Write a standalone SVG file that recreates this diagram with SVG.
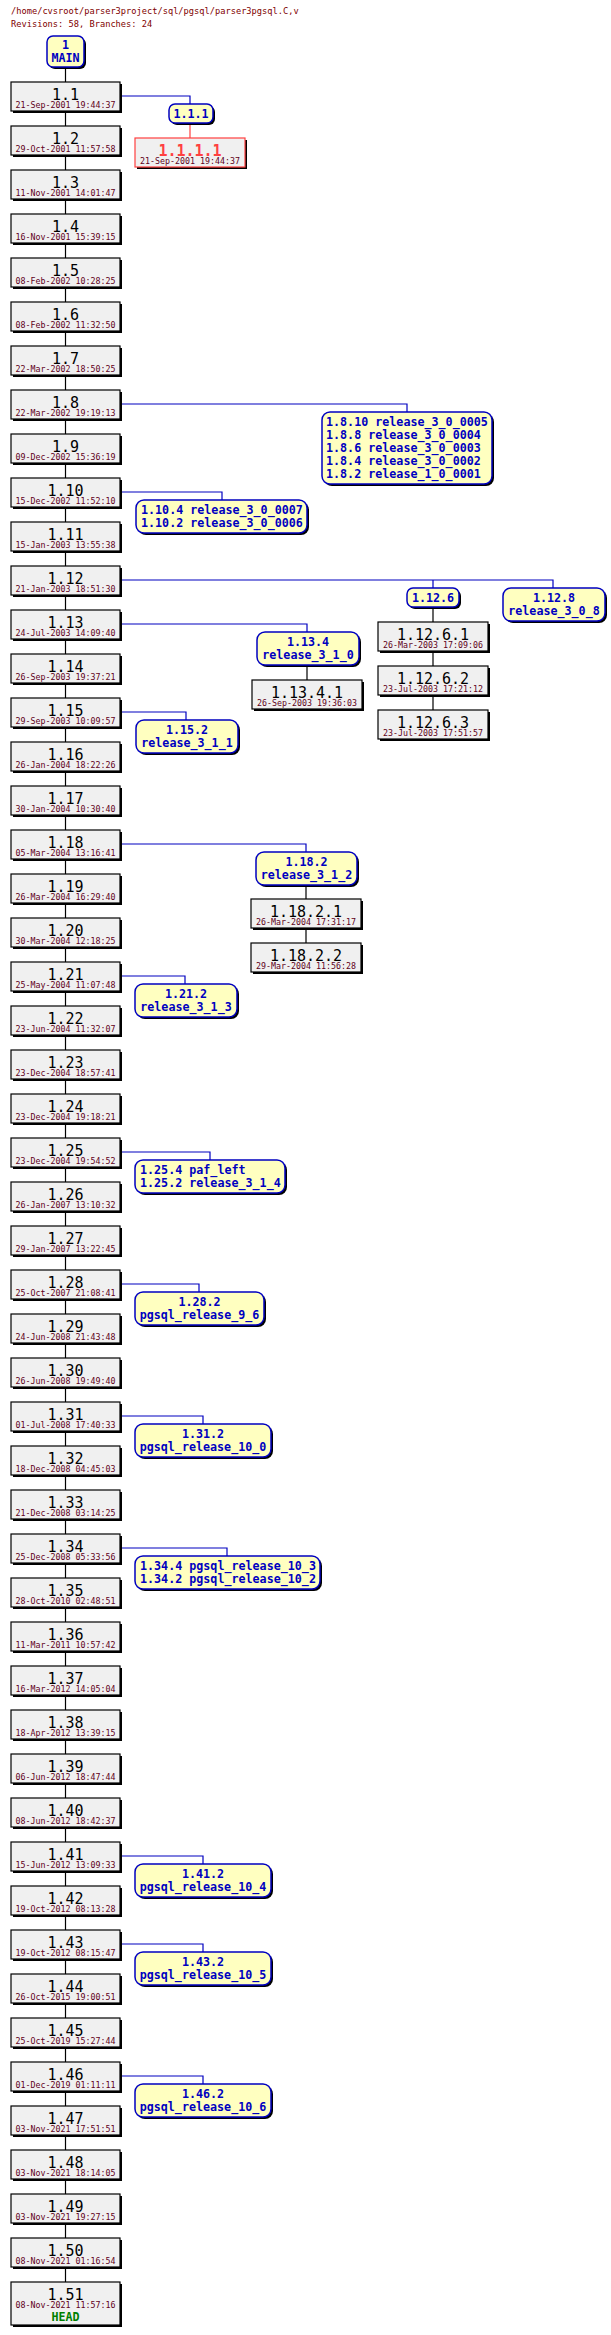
<svg xmlns="http://www.w3.org/2000/svg" width="611" height="2335" viewBox="0 0 611 2335">
<style>
.hd{font-family:"DejaVu Sans Mono",monospace;font-size:8.7px;fill:#800000}
.sh{fill:#000}
.rv{fill:#f0f0f0;stroke:#000;stroke-width:1.2}
.rvr{fill:#f0f0f0;stroke:#ff4040;stroke-width:1.2}
.tg{fill:#ffffc0;stroke:#0000c0;stroke-width:1.5}
.n{font-family:"DejaVu Sans Mono",monospace;font-size:15px;fill:#000;text-anchor:middle}
.nr{font-family:"DejaVu Sans Mono",monospace;font-size:15px;fill:#ff4040;text-anchor:middle;font-weight:bold}
.d{font-family:"DejaVu Sans Mono",monospace;font-size:8.3px;fill:#600020;text-anchor:middle}
.t{font-family:"DejaVu Sans Mono",monospace;font-size:11.7px;font-weight:bold;fill:#0000c0}
.c{text-anchor:middle}
.hdt{font-family:"DejaVu Sans Mono",monospace;font-size:11.7px;font-weight:bold;fill:#008000;text-anchor:middle}
.k{stroke:#000;stroke-width:1.2;fill:none}
.b{stroke:#0000c0;stroke-width:1.2;fill:none}
.r{stroke:#ff4040;stroke-width:1.2;fill:none}
</style>
<text class="hd" x="11" y="14">/home/cvsroot/parser3project/sql/pgsql/parser3pgsql.C,v</text>
<text class="hd" x="11" y="27">Revisions: 58, Branches: 24</text>
<g id="connectors">
<path class="k" d="M65.5 67V2282"/>
<path class="b" d="M120 96H190V104M120 404H407V412M120 492H222V500M120 580H553V588M433 580V588M120 624H307V632M120 712H186V720M120 844H306V852M120 976H185V984M120 1152H210V1160M120 1284H199V1292M120 1416H203V1424M120 1548H227V1556M120 1856H203V1864M120 1944H203V1952M120 2076H203V2084"/>
<path class="r" d="M190 123V138"/>
<path class="k" d="M433 607V622M433 651V666M433 695V710M307 665V680M306 885V899M306 928V943"/>
</g>
<g id="MAIN"><rect class="sh" x="49" y="38" width="37" height="31" rx="6"/><rect class="tg" x="47" y="36" width="37" height="31" rx="6"/><text class="t c" x="65.5" y="49">1</text><text class="t c" x="65.5" y="62">MAIN</text></g>
<g id="trunk">
<g id="r1.1"><rect class="sh" x="13" y="84" width="109" height="29"/><rect class="rv" x="11" y="82" width="109" height="29"/><text class="n" x="65.5" y="100">1.1</text><text class="d" x="65.5" y="108">21-Sep-2001 19:44:37</text></g>
<g id="r1.2"><rect class="sh" x="13" y="128" width="109" height="29"/><rect class="rv" x="11" y="126" width="109" height="29"/><text class="n" x="65.5" y="144">1.2</text><text class="d" x="65.5" y="152">29-Oct-2001 11:57:58</text></g>
<g id="r1.3"><rect class="sh" x="13" y="172" width="109" height="29"/><rect class="rv" x="11" y="170" width="109" height="29"/><text class="n" x="65.5" y="188">1.3</text><text class="d" x="65.5" y="196">11-Nov-2001 14:01:47</text></g>
<g id="r1.4"><rect class="sh" x="13" y="216" width="109" height="29"/><rect class="rv" x="11" y="214" width="109" height="29"/><text class="n" x="65.5" y="232">1.4</text><text class="d" x="65.5" y="240">16-Nov-2001 15:39:15</text></g>
<g id="r1.5"><rect class="sh" x="13" y="260" width="109" height="29"/><rect class="rv" x="11" y="258" width="109" height="29"/><text class="n" x="65.5" y="276">1.5</text><text class="d" x="65.5" y="284">08-Feb-2002 10:28:25</text></g>
<g id="r1.6"><rect class="sh" x="13" y="304" width="109" height="29"/><rect class="rv" x="11" y="302" width="109" height="29"/><text class="n" x="65.5" y="320">1.6</text><text class="d" x="65.5" y="328">08-Feb-2002 11:32:50</text></g>
<g id="r1.7"><rect class="sh" x="13" y="348" width="109" height="29"/><rect class="rv" x="11" y="346" width="109" height="29"/><text class="n" x="65.5" y="364">1.7</text><text class="d" x="65.5" y="372">22-Mar-2002 18:50:25</text></g>
<g id="r1.8"><rect class="sh" x="13" y="392" width="109" height="29"/><rect class="rv" x="11" y="390" width="109" height="29"/><text class="n" x="65.5" y="408">1.8</text><text class="d" x="65.5" y="416">22-Mar-2002 19:19:13</text></g>
<g id="r1.9"><rect class="sh" x="13" y="436" width="109" height="29"/><rect class="rv" x="11" y="434" width="109" height="29"/><text class="n" x="65.5" y="452">1.9</text><text class="d" x="65.5" y="460">09-Dec-2002 15:36:19</text></g>
<g id="r1.10"><rect class="sh" x="13" y="480" width="109" height="29"/><rect class="rv" x="11" y="478" width="109" height="29"/><text class="n" x="65.5" y="496">1.10</text><text class="d" x="65.5" y="504">15-Dec-2002 11:52:10</text></g>
<g id="r1.11"><rect class="sh" x="13" y="524" width="109" height="29"/><rect class="rv" x="11" y="522" width="109" height="29"/><text class="n" x="65.5" y="540">1.11</text><text class="d" x="65.5" y="548">15-Jan-2003 13:55:38</text></g>
<g id="r1.12"><rect class="sh" x="13" y="568" width="109" height="29"/><rect class="rv" x="11" y="566" width="109" height="29"/><text class="n" x="65.5" y="584">1.12</text><text class="d" x="65.5" y="592">21-Jan-2003 18:51:30</text></g>
<g id="r1.13"><rect class="sh" x="13" y="612" width="109" height="29"/><rect class="rv" x="11" y="610" width="109" height="29"/><text class="n" x="65.5" y="628">1.13</text><text class="d" x="65.5" y="636">24-Jul-2003 14:09:40</text></g>
<g id="r1.14"><rect class="sh" x="13" y="656" width="109" height="29"/><rect class="rv" x="11" y="654" width="109" height="29"/><text class="n" x="65.5" y="672">1.14</text><text class="d" x="65.5" y="680">26-Sep-2003 19:37:21</text></g>
<g id="r1.15"><rect class="sh" x="13" y="700" width="109" height="29"/><rect class="rv" x="11" y="698" width="109" height="29"/><text class="n" x="65.5" y="716">1.15</text><text class="d" x="65.5" y="724">29-Sep-2003 10:09:57</text></g>
<g id="r1.16"><rect class="sh" x="13" y="744" width="109" height="29"/><rect class="rv" x="11" y="742" width="109" height="29"/><text class="n" x="65.5" y="760">1.16</text><text class="d" x="65.5" y="768">26-Jan-2004 18:22:26</text></g>
<g id="r1.17"><rect class="sh" x="13" y="788" width="109" height="29"/><rect class="rv" x="11" y="786" width="109" height="29"/><text class="n" x="65.5" y="804">1.17</text><text class="d" x="65.5" y="812">30-Jan-2004 10:30:40</text></g>
<g id="r1.18"><rect class="sh" x="13" y="832" width="109" height="29"/><rect class="rv" x="11" y="830" width="109" height="29"/><text class="n" x="65.5" y="848">1.18</text><text class="d" x="65.5" y="856">05-Mar-2004 13:16:41</text></g>
<g id="r1.19"><rect class="sh" x="13" y="876" width="109" height="29"/><rect class="rv" x="11" y="874" width="109" height="29"/><text class="n" x="65.5" y="892">1.19</text><text class="d" x="65.5" y="900">26-Mar-2004 16:29:40</text></g>
<g id="r1.20"><rect class="sh" x="13" y="920" width="109" height="29"/><rect class="rv" x="11" y="918" width="109" height="29"/><text class="n" x="65.5" y="936">1.20</text><text class="d" x="65.5" y="944">30-Mar-2004 12:18:25</text></g>
<g id="r1.21"><rect class="sh" x="13" y="964" width="109" height="29"/><rect class="rv" x="11" y="962" width="109" height="29"/><text class="n" x="65.5" y="980">1.21</text><text class="d" x="65.5" y="988">25-May-2004 11:07:48</text></g>
<g id="r1.22"><rect class="sh" x="13" y="1008" width="109" height="29"/><rect class="rv" x="11" y="1006" width="109" height="29"/><text class="n" x="65.5" y="1024">1.22</text><text class="d" x="65.5" y="1032">23-Jun-2004 11:32:07</text></g>
<g id="r1.23"><rect class="sh" x="13" y="1052" width="109" height="29"/><rect class="rv" x="11" y="1050" width="109" height="29"/><text class="n" x="65.5" y="1068">1.23</text><text class="d" x="65.5" y="1076">23-Dec-2004 18:57:41</text></g>
<g id="r1.24"><rect class="sh" x="13" y="1096" width="109" height="29"/><rect class="rv" x="11" y="1094" width="109" height="29"/><text class="n" x="65.5" y="1112">1.24</text><text class="d" x="65.5" y="1120">23-Dec-2004 19:18:21</text></g>
<g id="r1.25"><rect class="sh" x="13" y="1140" width="109" height="29"/><rect class="rv" x="11" y="1138" width="109" height="29"/><text class="n" x="65.5" y="1156">1.25</text><text class="d" x="65.5" y="1164">23-Dec-2004 19:54:52</text></g>
<g id="r1.26"><rect class="sh" x="13" y="1184" width="109" height="29"/><rect class="rv" x="11" y="1182" width="109" height="29"/><text class="n" x="65.5" y="1200">1.26</text><text class="d" x="65.5" y="1208">26-Jan-2007 13:10:32</text></g>
<g id="r1.27"><rect class="sh" x="13" y="1228" width="109" height="29"/><rect class="rv" x="11" y="1226" width="109" height="29"/><text class="n" x="65.5" y="1244">1.27</text><text class="d" x="65.5" y="1252">29-Jan-2007 13:22:45</text></g>
<g id="r1.28"><rect class="sh" x="13" y="1272" width="109" height="29"/><rect class="rv" x="11" y="1270" width="109" height="29"/><text class="n" x="65.5" y="1288">1.28</text><text class="d" x="65.5" y="1296">25-Oct-2007 21:08:41</text></g>
<g id="r1.29"><rect class="sh" x="13" y="1316" width="109" height="29"/><rect class="rv" x="11" y="1314" width="109" height="29"/><text class="n" x="65.5" y="1332">1.29</text><text class="d" x="65.5" y="1340">24-Jun-2008 21:43:48</text></g>
<g id="r1.30"><rect class="sh" x="13" y="1360" width="109" height="29"/><rect class="rv" x="11" y="1358" width="109" height="29"/><text class="n" x="65.5" y="1376">1.30</text><text class="d" x="65.5" y="1384">26-Jun-2008 19:49:40</text></g>
<g id="r1.31"><rect class="sh" x="13" y="1404" width="109" height="29"/><rect class="rv" x="11" y="1402" width="109" height="29"/><text class="n" x="65.5" y="1420">1.31</text><text class="d" x="65.5" y="1428">01-Jul-2008 17:40:33</text></g>
<g id="r1.32"><rect class="sh" x="13" y="1448" width="109" height="29"/><rect class="rv" x="11" y="1446" width="109" height="29"/><text class="n" x="65.5" y="1464">1.32</text><text class="d" x="65.5" y="1472">18-Dec-2008 04:45:03</text></g>
<g id="r1.33"><rect class="sh" x="13" y="1492" width="109" height="29"/><rect class="rv" x="11" y="1490" width="109" height="29"/><text class="n" x="65.5" y="1508">1.33</text><text class="d" x="65.5" y="1516">21-Dec-2008 03:14:25</text></g>
<g id="r1.34"><rect class="sh" x="13" y="1536" width="109" height="29"/><rect class="rv" x="11" y="1534" width="109" height="29"/><text class="n" x="65.5" y="1552">1.34</text><text class="d" x="65.5" y="1560">25-Dec-2008 05:33:56</text></g>
<g id="r1.35"><rect class="sh" x="13" y="1580" width="109" height="29"/><rect class="rv" x="11" y="1578" width="109" height="29"/><text class="n" x="65.5" y="1596">1.35</text><text class="d" x="65.5" y="1604">28-Oct-2010 02:48:51</text></g>
<g id="r1.36"><rect class="sh" x="13" y="1624" width="109" height="29"/><rect class="rv" x="11" y="1622" width="109" height="29"/><text class="n" x="65.5" y="1640">1.36</text><text class="d" x="65.5" y="1648">11-Mar-2011 10:57:42</text></g>
<g id="r1.37"><rect class="sh" x="13" y="1668" width="109" height="29"/><rect class="rv" x="11" y="1666" width="109" height="29"/><text class="n" x="65.5" y="1684">1.37</text><text class="d" x="65.5" y="1692">16-Mar-2012 14:05:04</text></g>
<g id="r1.38"><rect class="sh" x="13" y="1712" width="109" height="29"/><rect class="rv" x="11" y="1710" width="109" height="29"/><text class="n" x="65.5" y="1728">1.38</text><text class="d" x="65.5" y="1736">18-Apr-2012 13:39:15</text></g>
<g id="r1.39"><rect class="sh" x="13" y="1756" width="109" height="29"/><rect class="rv" x="11" y="1754" width="109" height="29"/><text class="n" x="65.5" y="1772">1.39</text><text class="d" x="65.5" y="1780">06-Jun-2012 18:47:44</text></g>
<g id="r1.40"><rect class="sh" x="13" y="1800" width="109" height="29"/><rect class="rv" x="11" y="1798" width="109" height="29"/><text class="n" x="65.5" y="1816">1.40</text><text class="d" x="65.5" y="1824">08-Jun-2012 18:42:37</text></g>
<g id="r1.41"><rect class="sh" x="13" y="1844" width="109" height="29"/><rect class="rv" x="11" y="1842" width="109" height="29"/><text class="n" x="65.5" y="1860">1.41</text><text class="d" x="65.5" y="1868">15-Jun-2012 13:09:33</text></g>
<g id="r1.42"><rect class="sh" x="13" y="1888" width="109" height="29"/><rect class="rv" x="11" y="1886" width="109" height="29"/><text class="n" x="65.5" y="1904">1.42</text><text class="d" x="65.5" y="1912">19-Oct-2012 08:13:28</text></g>
<g id="r1.43"><rect class="sh" x="13" y="1932" width="109" height="29"/><rect class="rv" x="11" y="1930" width="109" height="29"/><text class="n" x="65.5" y="1948">1.43</text><text class="d" x="65.5" y="1956">19-Oct-2012 08:15:47</text></g>
<g id="r1.44"><rect class="sh" x="13" y="1976" width="109" height="29"/><rect class="rv" x="11" y="1974" width="109" height="29"/><text class="n" x="65.5" y="1992">1.44</text><text class="d" x="65.5" y="2000">26-Oct-2015 19:00:51</text></g>
<g id="r1.45"><rect class="sh" x="13" y="2020" width="109" height="29"/><rect class="rv" x="11" y="2018" width="109" height="29"/><text class="n" x="65.5" y="2036">1.45</text><text class="d" x="65.5" y="2044">25-Oct-2019 15:27:44</text></g>
<g id="r1.46"><rect class="sh" x="13" y="2064" width="109" height="29"/><rect class="rv" x="11" y="2062" width="109" height="29"/><text class="n" x="65.5" y="2080">1.46</text><text class="d" x="65.5" y="2088">01-Dec-2019 01:11:11</text></g>
<g id="r1.47"><rect class="sh" x="13" y="2108" width="109" height="29"/><rect class="rv" x="11" y="2106" width="109" height="29"/><text class="n" x="65.5" y="2124">1.47</text><text class="d" x="65.5" y="2132">03-Nov-2021 17:51:51</text></g>
<g id="r1.48"><rect class="sh" x="13" y="2152" width="109" height="29"/><rect class="rv" x="11" y="2150" width="109" height="29"/><text class="n" x="65.5" y="2168">1.48</text><text class="d" x="65.5" y="2176">03-Nov-2021 18:14:05</text></g>
<g id="r1.49"><rect class="sh" x="13" y="2196" width="109" height="29"/><rect class="rv" x="11" y="2194" width="109" height="29"/><text class="n" x="65.5" y="2212">1.49</text><text class="d" x="65.5" y="2220">03-Nov-2021 19:27:15</text></g>
<g id="r1.50"><rect class="sh" x="13" y="2240" width="109" height="29"/><rect class="rv" x="11" y="2238" width="109" height="29"/><text class="n" x="65.5" y="2256">1.50</text><text class="d" x="65.5" y="2264">08-Nov-2021 01:16:54</text></g>
<g id="r1.51"><rect class="sh" x="13" y="2284" width="109" height="43"/><rect class="rv" x="11" y="2282" width="109" height="43"/><text class="n" x="65.5" y="2300">1.51</text><text class="d" x="65.5" y="2308">08-Nov-2021 11:57:16</text><text class="hdt" x="65.5" y="2321">HEAD</text></g>
</g>
<g id="branches" xml:space="preserve">
<g id="b1.1.1"><rect class="sh" x="171" y="106" width="44" height="19" rx="6"/><rect class="tg" x="169" y="104" width="44" height="19" rx="6"/><text class="t c" x="191" y="118">1.1.1</text></g>
<g id="r1.1.1.1"><rect class="sh" x="137" y="140" width="110" height="29"/><rect class="rvr" x="135" y="138" width="110" height="29"/><text class="nr" x="190" y="156">1.1.1.1</text><text class="d" x="190" y="164">21-Sep-2001 19:44:37</text></g>
<g id="t1.8"><rect class="sh" x="324" y="414" width="170" height="72" rx="8"/><rect class="tg" x="322" y="412" width="170" height="72" rx="8"/><text class="t" x="326" y="426">1.8.10 release_3_0_0005</text><text class="t" x="326" y="439"> 1.8.8 release_3_0_0004</text><text class="t" x="326" y="452"> 1.8.6 release_3_0_0003</text><text class="t" x="326" y="465"> 1.8.4 release_3_0_0002</text><text class="t" x="326" y="478"> 1.8.2 release_1_0_0001</text></g>
<g id="t1.10"><rect class="sh" x="138" y="502" width="171" height="33" rx="8"/><rect class="tg" x="136" y="500" width="171" height="33" rx="8"/><text class="t" x="141" y="514">1.10.4 release_3_0_0007</text><text class="t" x="141" y="527">1.10.2 release_3_0_0006</text></g>
<g id="b1.12.6"><rect class="sh" x="409" y="590" width="52" height="19" rx="6"/><rect class="tg" x="407" y="588" width="52" height="19" rx="6"/><text class="t c" x="433" y="602">1.12.6</text></g>
<g id="b1.12.8"><rect class="sh" x="505" y="590" width="102" height="33" rx="8"/><rect class="tg" x="503" y="588" width="102" height="33" rx="8"/><text class="t c" x="554" y="602">1.12.8</text><text class="t c" x="554" y="615">release_3_0_8</text></g>
<g id="r1.12.6.1"><rect class="sh" x="380" y="624" width="110" height="29"/><rect class="rv" x="378" y="622" width="110" height="29"/><text class="n" x="433" y="640">1.12.6.1</text><text class="d" x="433" y="648">26-Mar-2003 17:09:06</text></g>
<g id="r1.12.6.2"><rect class="sh" x="380" y="668" width="110" height="29"/><rect class="rv" x="378" y="666" width="110" height="29"/><text class="n" x="433" y="684">1.12.6.2</text><text class="d" x="433" y="692">23-Jul-2003 17:21:12</text></g>
<g id="r1.12.6.3"><rect class="sh" x="380" y="712" width="110" height="29"/><rect class="rv" x="378" y="710" width="110" height="29"/><text class="n" x="433" y="728">1.12.6.3</text><text class="d" x="433" y="736">23-Jul-2003 17:51:57</text></g>
<g id="b1.13.4"><rect class="sh" x="259" y="634" width="102" height="33" rx="8"/><rect class="tg" x="257" y="632" width="102" height="33" rx="8"/><text class="t c" x="308" y="646">1.13.4</text><text class="t c" x="308" y="659">release_3_1_0</text></g>
<g id="r1.13.4.1"><rect class="sh" x="254" y="682" width="110" height="29"/><rect class="rv" x="252" y="680" width="110" height="29"/><text class="n" x="307" y="698">1.13.4.1</text><text class="d" x="307" y="706">26-Sep-2003 19:36:03</text></g>
<g id="b1.15.2"><rect class="sh" x="138" y="722" width="102" height="33" rx="8"/><rect class="tg" x="136" y="720" width="102" height="33" rx="8"/><text class="t c" x="187" y="734">1.15.2</text><text class="t c" x="187" y="747">release_3_1_1</text></g>
<g id="b1.18.2"><rect class="sh" x="258" y="854" width="101" height="33" rx="8"/><rect class="tg" x="256" y="852" width="101" height="33" rx="8"/><text class="t c" x="306.5" y="866">1.18.2</text><text class="t c" x="306.5" y="879">release_3_1_2</text></g>
<g id="r1.18.2.1"><rect class="sh" x="253" y="901" width="110" height="29"/><rect class="rv" x="251" y="899" width="110" height="29"/><text class="n" x="306" y="917">1.18.2.1</text><text class="d" x="306" y="925">26-Mar-2004 17:31:17</text></g>
<g id="r1.18.2.2"><rect class="sh" x="253" y="945" width="110" height="29"/><rect class="rv" x="251" y="943" width="110" height="29"/><text class="n" x="306" y="961">1.18.2.2</text><text class="d" x="306" y="969">29-Mar-2004 11:56:28</text></g>
<g id="b1.21.2"><rect class="sh" x="137" y="986" width="102" height="33" rx="8"/><rect class="tg" x="135" y="984" width="102" height="33" rx="8"/><text class="t c" x="186" y="998">1.21.2</text><text class="t c" x="186" y="1011">release_3_1_3</text></g>
<g id="t1.25"><rect class="sh" x="137" y="1162" width="150" height="33" rx="8"/><rect class="tg" x="135" y="1160" width="150" height="33" rx="8"/><text class="t" x="140" y="1174">1.25.4 paf_left</text><text class="t" x="140" y="1187">1.25.2 release_3_1_4</text></g>
<g id="b1.28.2"><rect class="sh" x="137" y="1294" width="129" height="33" rx="8"/><rect class="tg" x="135" y="1292" width="129" height="33" rx="8"/><text class="t c" x="199.5" y="1306">1.28.2</text><text class="t c" x="199.5" y="1319">pgsql_release_9_6</text></g>
<g id="b1.31.2"><rect class="sh" x="137" y="1426" width="136" height="33" rx="8"/><rect class="tg" x="135" y="1424" width="136" height="33" rx="8"/><text class="t c" x="203" y="1438">1.31.2</text><text class="t c" x="203" y="1451">pgsql_release_10_0</text></g>
<g id="t1.34"><rect class="sh" x="137" y="1558" width="185" height="33" rx="8"/><rect class="tg" x="135" y="1556" width="185" height="33" rx="8"/><text class="t" x="140" y="1570">1.34.4 pgsql_release_10_3</text><text class="t" x="140" y="1583">1.34.2 pgsql_release_10_2</text></g>
<g id="b1.41.2"><rect class="sh" x="137" y="1866" width="136" height="33" rx="8"/><rect class="tg" x="135" y="1864" width="136" height="33" rx="8"/><text class="t c" x="203" y="1878">1.41.2</text><text class="t c" x="203" y="1891">pgsql_release_10_4</text></g>
<g id="b1.43.2"><rect class="sh" x="137" y="1954" width="136" height="33" rx="8"/><rect class="tg" x="135" y="1952" width="136" height="33" rx="8"/><text class="t c" x="203" y="1966">1.43.2</text><text class="t c" x="203" y="1979">pgsql_release_10_5</text></g>
<g id="b1.46.2"><rect class="sh" x="137" y="2086" width="136" height="33" rx="8"/><rect class="tg" x="135" y="2084" width="136" height="33" rx="8"/><text class="t c" x="203" y="2098">1.46.2</text><text class="t c" x="203" y="2111">pgsql_release_10_6</text></g>
</g>
</svg>
